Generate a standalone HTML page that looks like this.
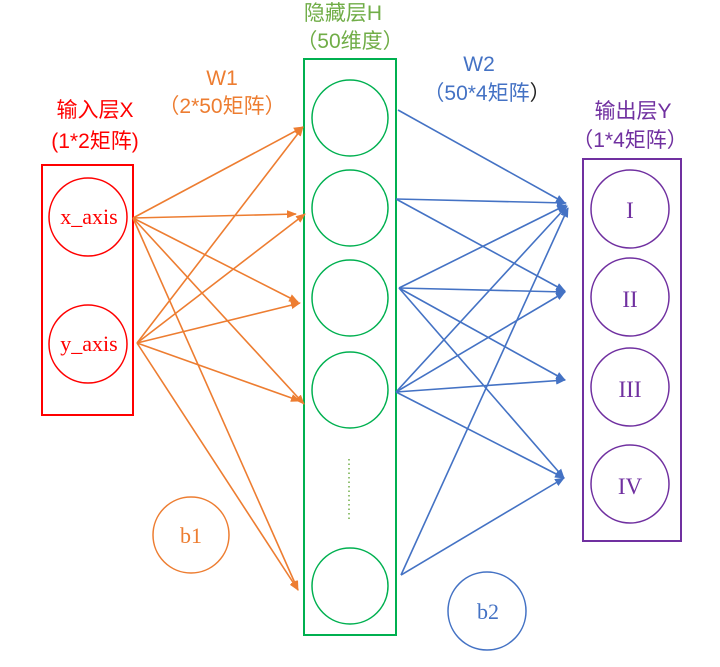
<!DOCTYPE html>
<html><head><meta charset="utf-8"><style>
body{margin:0;background:#fff;}
svg{display:block;font-family:"Liberation Sans","Noto Sans CJK SC",sans-serif;}
</style></head><body>
<svg width="720" height="667" viewBox="0 0 720 667" xmlns="http://www.w3.org/2000/svg">
<defs>
<marker id="ao" markerWidth="10" markerHeight="8" refX="9" refY="4" orient="auto" markerUnits="userSpaceOnUse"><path d="M0,0 L10,4 L0,8 Z" fill="#ed7d31"/></marker>
<marker id="ab" markerWidth="10" markerHeight="8" refX="9" refY="4" orient="auto" markerUnits="userSpaceOnUse"><path d="M0,0 L10,4 L0,8 Z" fill="#4472c4"/></marker>
</defs>
<text x="95" y="117" fill="#ff0000" font-size="21" text-anchor="middle">输入层X</text>
<text x="95" y="148" fill="#ff0000" font-size="21" text-anchor="middle">(1*2矩阵)</text>
<text x="222" y="85" fill="#ed7d31" font-size="21" text-anchor="middle">W1</text>
<text x="222" y="113" fill="#ed7d31" font-size="21" text-anchor="middle">（2*50矩阵）</text>
<text x="343" y="20" fill="#70ad47" font-size="21" text-anchor="middle">隐藏层H</text>
<text x="350" y="48" fill="#70ad47" font-size="21" text-anchor="middle">（50维度）</text>
<text x="479" y="71" fill="#4472c4" font-size="21" text-anchor="middle">W2</text>
<text x="487" y="100" fill="#4472c4" font-size="21" text-anchor="middle">（50*4矩阵<tspan fill="#222">）</tspan></text>
<text x="633" y="118" fill="#7030a0" font-size="21" text-anchor="middle">输出层Y</text>
<text x="630" y="147" fill="#7030a0" font-size="21" text-anchor="middle">（1*4矩阵）</text>
<rect x="42" y="165" width="91" height="250" fill="none" stroke="#ff0000" stroke-width="2"/>
<circle cx="88" cy="217" r="39" fill="none" stroke="#ff0000" stroke-width="1.5"/>
<circle cx="88" cy="344" r="39" fill="none" stroke="#ff0000" stroke-width="1.5"/>
<g font-family="Liberation Serif,serif" font-size="22" text-anchor="middle" fill="#ff0000">
<text x="89" y="224">x_axis</text>
<text x="89" y="351">y_axis</text>
</g>
<rect x="304" y="59" width="92" height="576" fill="none" stroke="#00b050" stroke-width="2"/>
<g fill="none" stroke="#00b050" stroke-width="1.5">
<circle cx="350" cy="118" r="38"/><circle cx="350" cy="208" r="38"/><circle cx="350" cy="298" r="38"/><circle cx="350" cy="390" r="38"/><circle cx="350" cy="586" r="38"/>
</g>
<line x1="349" y1="459" x2="349" y2="519" stroke="#70ad47" stroke-width="1.5" stroke-dasharray="1.5,3"/>
<rect x="583" y="159" width="98" height="382" fill="none" stroke="#7030a0" stroke-width="2"/>
<g fill="none" stroke="#7030a0" stroke-width="1.5">
<circle cx="630" cy="209" r="39"/><circle cx="630" cy="297" r="39"/><circle cx="630" cy="387" r="39"/><circle cx="630" cy="484" r="39"/>
</g>
<g fill="#7030a0" font-size="23" text-anchor="middle" font-family="Liberation Serif,serif">
<text x="630" y="218">I</text><text x="630" y="307">II</text><text x="630" y="397">III</text><text x="630" y="494">IV</text>
</g>
<circle cx="191" cy="535" r="38" fill="none" stroke="#ed7d31" stroke-width="1.5"/>
<text x="191" y="543" fill="#ed7d31" font-size="22" text-anchor="middle" font-family="Liberation Serif,serif">b1</text>
<circle cx="487" cy="611" r="39" fill="none" stroke="#4472c4" stroke-width="1.5"/>
<text x="488" y="619" fill="#4472c4" font-size="22" text-anchor="middle" font-family="Liberation Serif,serif">b2</text>
<g stroke="#ed7d31" stroke-width="1.6" marker-end="url(#ao)">
<line x1="133" y1="218" x2="303" y2="127"/>
<line x1="133" y1="218" x2="296" y2="214"/>
<line x1="133" y1="218" x2="298" y2="302"/>
<line x1="133" y1="218" x2="304" y2="404"/>
<line x1="133" y1="218" x2="298" y2="590"/>
<line x1="137" y1="343" x2="303" y2="127"/>
<line x1="137" y1="343" x2="305" y2="214"/>
<line x1="137" y1="343" x2="300" y2="303"/>
<line x1="137" y1="343" x2="300" y2="401"/>
<line x1="137" y1="343" x2="298" y2="590"/>
</g>
<g stroke="#4472c4" stroke-width="1.6" marker-end="url(#ab)">
<line x1="398" y1="110" x2="565" y2="203"/>
<line x1="396" y1="199" x2="566" y2="203"/>
<line x1="396" y1="199" x2="565" y2="291"/>
<line x1="399" y1="288" x2="566" y2="205"/>
<line x1="399" y1="288" x2="565" y2="292"/>
<line x1="399" y1="288" x2="565" y2="380"/>
<line x1="399" y1="288" x2="564" y2="478"/>
<line x1="396" y1="392" x2="567" y2="206"/>
<line x1="396" y1="392" x2="565" y2="292"/>
<line x1="396" y1="392" x2="565" y2="380"/>
<line x1="396" y1="392" x2="564" y2="478"/>
<line x1="401" y1="575" x2="568" y2="208"/>
<line x1="401" y1="575" x2="564" y2="478"/>
</g>
</svg>
</body></html>
